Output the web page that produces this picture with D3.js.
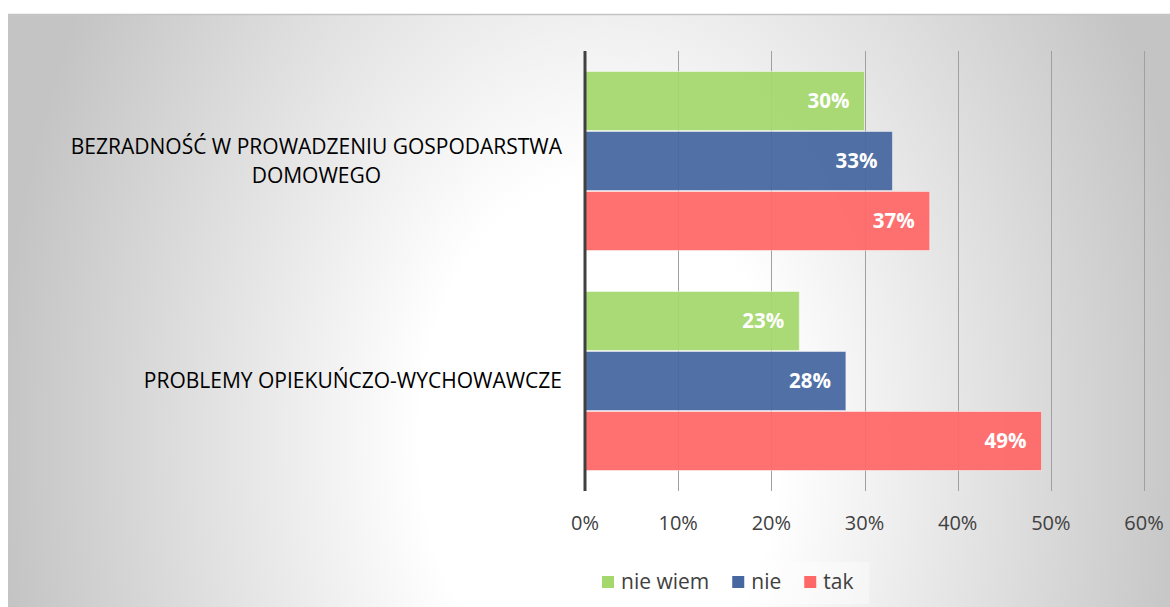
<!DOCTYPE html>
<html>
<head>
<meta charset="utf-8">
<script src="https://cdn.jsdelivr.net/npm/d3@7/dist/d3.min.js"></script>
<style>
   body { margin: 0; background: #ffffff; }
   svg text { font-family: "Open Sans", "DejaVu Sans", sans-serif; }
</style>
</head>
<body>
<div id="chart"></div>
<script>

// Chart data.
const categories = ["BEZRADNOŚĆ W PROWADZENIU GOSPODARSTWA DOMOWEGO", "PROBLEMY OPIEKUŃCZO-WYCHOWAWCZE"];
const seriesNames = ["nie wiem", "nie", "tak"];
const seriesColors = ["#a4d86c", "#4667a0", "#ff6868"];
const nieWiem = [0.30, 0.23];
const nie = [0.33, 0.28];
const tak = [0.37, 0.49];
const tickValues = [0, 0.1, 0.2, 0.3, 0.4, 0.5, 0.6];

const seriesValues = [nieWiem, nie, tak];

const width = 1170, height = 607;

let svg = d3.select("#chart")
   .append("svg")
   .attr("width", width)
   .attr("height", height);

// Background with a soft radial light in the middle.
let defs = svg.append("defs");
let grad = defs.append("radialGradient")
   .attr("id", "bg")
   .attr("gradientUnits", "userSpaceOnUse")
   .attr("cx", 600).attr("cy", 440).attr("r", 600)
   .attr("gradientTransform", "translate(600,440) scale(1,1.45) translate(-600,-440)");
grad.append("stop").attr("offset", 0).attr("stop-color", "#ffffff");
grad.append("stop").attr("offset", 0.3).attr("stop-color", "#ffffff");
grad.append("stop").attr("offset", 1).attr("stop-color", "#c4c4c4");

svg.append("rect")
   .attr("x", 8).attr("y", 14)
   .attr("width", width - 8).attr("height", height - 14)
   .attr("fill", "url(#bg)");
svg.append("line")
   .attr("x1", 8).attr("x2", width)
   .attr("y1", 14.5).attr("y2", 14.5)
   .attr("stroke", "#c4c4c4")
   .attr("stroke-width", 1.5);

// Scales
let x = d3.scaleLinear()
   .domain([0, 0.6])
   .range([585, 1144]);
let y0 = d3.scaleBand()
   .domain(categories)
   .range([51, 491])
   .paddingInner(2 / 11)
   .paddingOuter(1 / 11);
let y1 = d3.scaleBand()
   .domain(seriesNames)
   .range([0, y0.bandwidth()]);

// Vertical gridlines
svg.append("g")
   .selectAll("line")
   .data(tickValues.slice(1))
   .enter()
   .append("line")
   .attr("x1", d => Math.round(x(d)) + 0.5)
   .attr("x2", d => Math.round(x(d)) + 0.5)
   .attr("y1", 51).attr("y2", 491)
   .attr("stroke", "#a0a0a0")
   .attr("stroke-width", 1);

// Bars, one group per category
let groups = svg.selectAll(".cat")
   .data(categories)
   .enter()
   .append("g")
   .attr("class", "cat")
   .attr("transform", d => "translate(0," + y0(d) + ")");

groups.selectAll("rect")
   .data((d, i) => seriesNames.map((s, j) => ({ series: s, value: seriesValues[j][i], color: seriesColors[j] })))
   .enter()
   .append("rect")
   .attr("x", x(0))
   .attr("y", d => y1(d.series) + 0.5)
   .attr("width", d => x(d.value) - x(0))
   .attr("height", y1.bandwidth() - 1)
   .attr("fill", d => d.color)
   .attr("fill-opacity", 0.94)
   .attr("stroke", "#ffffff")
   .attr("stroke-opacity", 0.45)
   .attr("stroke-width", 1);

// Data labels inside the bar ends
groups.selectAll(".val")
   .data((d, i) => seriesNames.map((s, j) => ({ series: s, value: seriesValues[j][i] })))
   .enter()
   .append("text")
   .attr("class", "val")
   .attr("x", d => x(d.value) - 15)
   .attr("y", d => y1(d.series) + y1.bandwidth() / 2)
   .attr("dy", "0.36em")
   .attr("text-anchor", "end")
   .attr("fill", "#ffffff")
   .style("font-size", "20.5px")
   .style("font-weight", "bold")
   .text(d => Math.round(d.value * 100) + "%");

// Vertical axis line
svg.append("line")
   .attr("x1", x(0)).attr("x2", x(0))
   .attr("y1", 51).attr("y2", 491)
   .attr("stroke", "#404040")
   .attr("stroke-width", 3);

// Tick labels
svg.append("g")
   .selectAll("text")
   .data(tickValues)
   .enter()
   .append("text")
   .attr("x", d => x(d))
   .attr("y", 530)
   .attr("text-anchor", "middle")
   .attr("fill", "#404040")
   .style("font-size", "20px")
   .text(d3.format(".0%"));

// Category labels, wrapped; lines centred inside a block that ends at x=562
const labelRight = 562, labelMaxWidth = 500, lineHeight = 29;
categories.forEach(function(cat) {
   let t = svg.append("text")
      .attr("fill", "#000000")
      .attr("text-anchor", "middle")
      .style("font-size", "21px");
   let words = cat.split(" ");
   let lines = [], line = [];
   let probe = t.append("tspan");
   words.forEach(function(w) {
      line.push(w);
      probe.text(line.join(" "));
      if (probe.node().getComputedTextLength() > labelMaxWidth && line.length > 1) {
         line.pop();
         lines.push(line.join(" "));
         line = [w];
      }
   });
   lines.push(line.join(" "));
   probe.remove();

   let widths = lines.map(function(l) {
      let s = t.append("tspan").text(l);
      let wdt = s.node().getComputedTextLength();
      s.remove();
      return wdt;
   });
   let blockCenter = labelRight - d3.max(widths) / 2;
   let cy = y0(cat) + y0.bandwidth() / 2;
   let firstBaseline = cy - (lines.length - 1) * lineHeight / 2 + 7;
   lines.forEach(function(l, i) {
      t.append("tspan")
         .attr("x", blockCenter)
         .attr("y", firstBaseline + i * lineHeight)
         .text(l);
   });
});

// Legend
let legend = svg.append("g");
let legendBox = legend.append("rect")
   .attr("fill", "#ffffff")
   .attr("fill-opacity", 0.4);
let lx = 602;
seriesNames.forEach(function(s, i) {
   legend.append("rect")
      .attr("x", lx).attr("y", 576)
      .attr("width", 12).attr("height", 12)
      .attr("fill", seriesColors[i]);
   let label = legend.append("text")
      .attr("x", lx + 19)
      .attr("y", 589)
      .attr("fill", "#404040")
      .style("font-size", "21px")
      .text(s);
   lx += 19 + label.node().getComputedTextLength() + 23;
});
legendBox
   .attr("x", 577).attr("y", 562)
   .attr("width", lx - 23 + 16 - 577).attr("height", 42);

</script>
</body>
</html>
